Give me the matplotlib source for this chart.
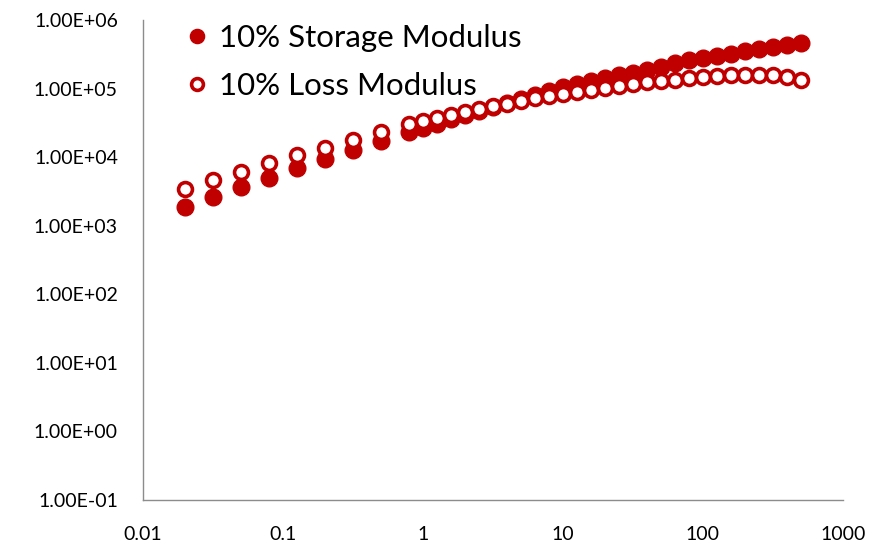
import matplotlib.pyplot as plt
from matplotlib.ticker import FuncFormatter, FixedLocator

# frequency (x) and moduli
freq = [0.02, 0.0316, 0.0501, 0.0794, 0.126, 0.2, 0.316, 0.501, 0.794,
        1.0, 1.26, 1.58, 2.0, 2.51, 3.16, 3.98, 5.01, 6.31, 7.94,
        10.0, 12.6, 15.8, 20.0, 25.1, 31.6, 39.8, 50.1, 63.1, 79.4,
        100, 126, 158, 200, 251, 316, 398, 501]
storage = [1860, 2630, 3720, 5010, 6920, 9330, 12600, 17000, 23400,
           26300, 30200, 35500, 40700, 46800, 53700, 61700, 70800, 81300, 93300,
           107000, 117000, 129000, 141000, 155000, 170000, 186000, 204000, 234000, 257000,
           282000, 302000, 324000, 347000, 380000, 407000, 437000, 468000]
loss = [3470, 4570, 6030, 8130, 10700, 13500, 17800, 23400, 30900,
        33900, 37200, 41700, 45700, 50100, 55000, 60300, 66100, 72400, 77600,
        83200, 89100, 95500, 102000, 110000, 117000, 123000, 129000, 135000, 141000,
        146000, 151000, 155000, 158000, 158000, 155000, 148000, 132000]

xticks = [0.01, 0.1, 1, 10, 100, 1000]
yticks = [1e-1, 1e0, 1e1, 1e2, 1e3, 1e4, 1e5, 1e6]

red = '#C00000'
plt.rcParams['font.family'] = ['Lato', 'DejaVu Sans']

fig = plt.figure(figsize=(8.77, 5.48), dpi=100)
ax = fig.add_axes([0.163, 0.0876, 0.798, 0.876])

ax.plot(freq, storage, 'o', color=red, markersize=12, label='10% Storage Modulus')
ax.plot(freq, loss, 'o', markerfacecolor='white', markeredgecolor=red,
        markeredgewidth=2.6, markersize=10, label='10% Loss Modulus')

ax.set_xscale('log')
ax.set_yscale('log')
ax.set_xlim(0.01, 1000)
ax.set_ylim(0.1, 1e6)
ax.xaxis.set_major_locator(FixedLocator(xticks))
ax.yaxis.set_major_locator(FixedLocator(yticks))
ax.xaxis.set_minor_locator(FixedLocator([]))
ax.yaxis.set_minor_locator(FixedLocator([]))
ax.xaxis.set_major_formatter(FuncFormatter(lambda v, p: '%g' % v))
ax.yaxis.set_major_formatter(FuncFormatter(lambda v, p: '%.2E' % v))
ax.tick_params(axis='both', length=0, labelsize=14, colors='#000000')
ax.tick_params(axis='y', pad=18)
ax.tick_params(axis='x', pad=19)

for s in ['top', 'right']:
    ax.spines[s].set_visible(False)
for s in ['left', 'bottom']:
    ax.spines[s].set_color('#8c8c8c')
    ax.spines[s].set_linewidth(1.0)

ax.legend(loc='upper left', bbox_to_anchor=(0.006, 1.05), frameon=False,
          fontsize=22.5, labelspacing=0.65, handletextpad=0.0, handlelength=1.4,
          markerscale=0.85)

fig.savefig('out.png', dpi=100)
